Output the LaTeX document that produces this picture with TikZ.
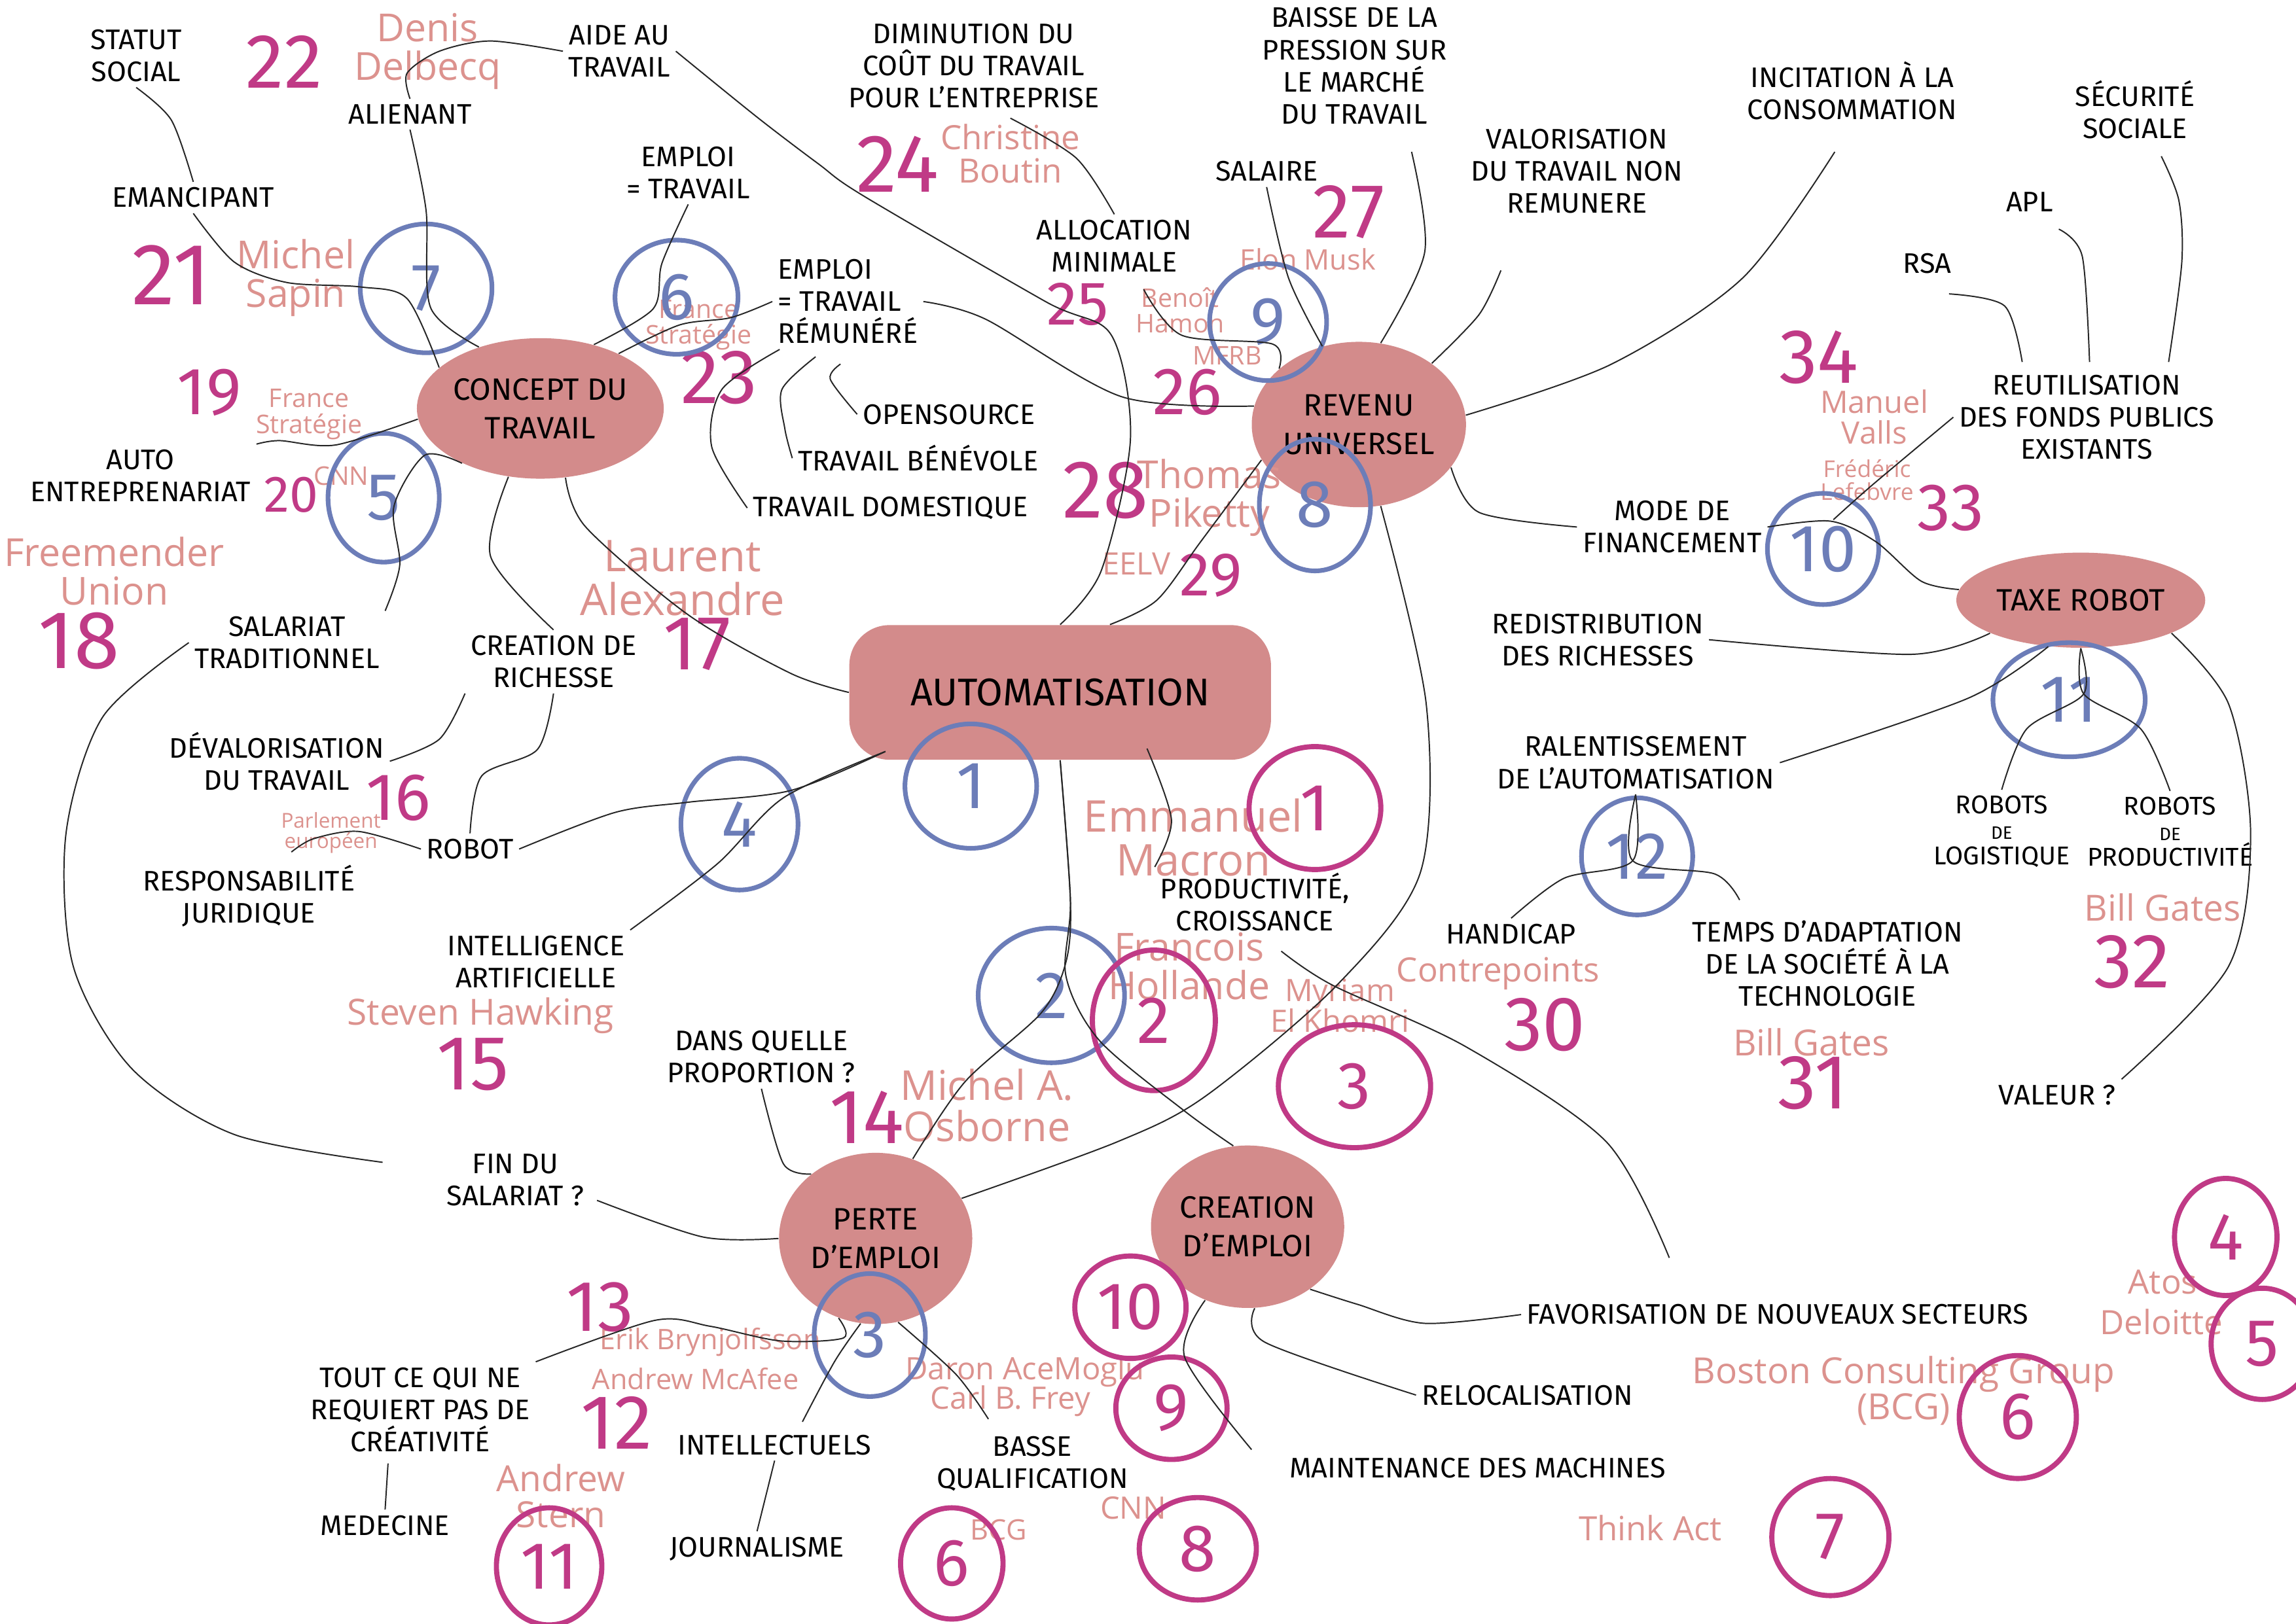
\documentclass[tikz,border=0pt]{standalone}
\usepackage{fontspec}
\setmainfont{Fira Sans}
\newfontfamily\nomfont{Open Sans}
\usetikzlibrary{shapes.geometric,calc}
\definecolor{rosefond}{RGB}{211,139,139}
\definecolor{numrose}{RGB}{192,58,134}
\definecolor{nomsaumon}{RGB}{220,146,142}
\definecolor{bleucercle}{RGB}{108,125,184}

\begin{document}
\begin{tikzpicture}[x=0.02cm, y=-0.02cm,
    lbl/.style={align=center, font=\fontsize{11}{12.5}\selectfont, inner sep=2pt},
    nom/.style={align=center, text=nomsaumon, font=\nomfont\fontsize{#1}{#1}\selectfont, inner sep=1pt},
    nom/.default=13,
    num/.style={text=numrose, font=\fontsize{#1}{#1}\selectfont, inner sep=0pt},
    num/.default=30,
    bleu/.style={ellipse, draw=bleucercle, line width=1.8pt, text=bleucercle, font=\fontsize{26}{26}\selectfont, inner sep=0pt},
    rond/.style={ellipse, draw=numrose, line width=2pt, text=numrose, font=\fontsize{26}{26}\selectfont, inner sep=0pt},
    theme/.style={ellipse, fill=rosefond, align=center, font=\fontsize{12}{15}\selectfont, inner sep=0pt},
    boite/.style={fill=rosefond, rounded corners=0.55cm, font=\fontsize{15}{15}\selectfont},
    lien/.style={draw=black!85, line width=0.5pt}
    ]
    \fill[white] (0,0) rectangle (1568,1109);
    \useasboundingbox (0,0) rectangle (1568,1109);

    % themes
    \node [boite, minimum width=5.76cm, minimum height=1.84cm] (auto) at (724,473) {AUTOMATISATION};
    \node [theme, minimum width=3.1cm, minimum height=1.92cm] (concept) at (369,279) {CONCEPT DU\\TRAVAIL};
    \node [theme, minimum width=2.86cm, minimum height=2.26cm] (revenu) at (928,290) {REVENU\\UNIVERSEL};
    \node [theme, minimum width=3.4cm, minimum height=1.3cm] (taxe) at (1421,410) {TAXE ROBOT};
    \node [theme, minimum width=2.64cm, minimum height=2.34cm] (perte) at (598,846) {PERTE\\D'EMPLOI};
    \node [theme, minimum width=2.64cm, minimum height=2.22cm] (creation) at (852,838) {CREATION\\D'EMPLOI};

    % idees
    \node [lbl] (statut) at (93,38) {STATUT\\SOCIAL};
    \node [lbl] (alien) at (280,78) {ALIENANT};
    \node [lbl] (aide) at (423,35) {AIDE AU\\TRAVAIL};
    \node [lbl] (emanc) at (132,135) {EMANCIPANT};
    \node [lbl] (emptr) at (470,118) {EMPLOI\\= TRAVAIL};
    \node [lbl] (dimin) at (665,45) {DIMINUTION DU\\COÛT DU TRAVAIL\\POUR L'ENTREPRISE};
    \node [lbl] (baisse) at (925,45) {BAISSE DE LA\\PRESSION SUR\\LE MARCHÉ\\DU TRAVAIL};
    \node [lbl] (incit) at (1265,62) {INCITATION À LA\\CONSOMMATION};
    \node [lbl] (secu) at (1458,75) {SÉCURITÉ\\SOCIALE};
    \node [lbl] (valor) at (1077,117) {VALORISATION\\DU TRAVAIL NON\\REMUNERE};
    \node [lbl] (salaire) at (865,117) {SALAIRE};
    \node [lbl] (alloc) at (761,168) {ALLOCATION\\MINIMALE};
    \node [lbl] (apl) at (1386,138) {APL};
    \node [lbl] (rsa) at (1316,180) {RSA};
    \node [lbl, align=left] (emprem) at (579,206) {EMPLOI\\= TRAVAIL\\RÉMUNÉRÉ};
    \node [lbl] (opens) at (648,283) {OPENSOURCE};
    \node [lbl] (benev) at (627,313) {TRAVAIL BÉNÉVOLE};
    \node [lbl] (domest) at (608,347) {TRAVAIL DOMESTIQUE};
    \node [lbl] (autoent) at (96,325) {AUTO\\ENTREPRENARIAT};
    \node [lbl] (reutil) at (1425,285) {REUTILISATION\\DES FONDS PUBLICS\\EXISTANTS};
    \node [lbl] (mode) at (1142,360) {MODE DE\\FINANCEMENT};
    \node [lbl] (redis) at (1091,437) {REDISTRIBUTION\\DES RICHESSES};
    \node [lbl] (salariat) at (196,439) {SALARIAT\\TRADITIONNEL};
    \node [lbl] (crearich) at (378,452) {CREATION DE\\RICHESSE};
    \node [lbl] (ralent) at (1117,521) {RALENTISSEMENT\\DE L'AUTOMATISATION};
    \node [lbl] (deval) at (189,520) {DÉVALORISATION\\DU TRAVAIL};
    \node [lbl] (robot) at (321,580) {ROBOT};
    \node [lbl] (respons) at (170,612) {RESPONSABILITÉ\\JURIDIQUE};
    \node [lbl, font=\fontsize{10}{10}\selectfont] (roblog) at (1367,568) {ROBOTS\\{\scriptsize DE}\\LOGISTIQUE};
    \node [lbl, font=\fontsize{10}{10}\selectfont] (robprod) at (1482,568) {ROBOTS\\{\scriptsize DE}\\PRODUCTIVITÉ};
    \node [lbl] (prodcr) at (857,616) {PRODUCTIVITÉ,\\CROISSANCE};
    \node [lbl] (ia) at (366,657) {INTELLIGENCE\\ARTIFICIELLE};
    \node [lbl] (handi) at (1032,638) {HANDICAP};
    \node [lbl] (temps) at (1248,658) {TEMPS D'ADAPTATION\\DE LA SOCIÉTÉ À LA\\TECHNOLOGIE};
    \node [lbl] (proport) at (520,722) {DANS QUELLE\\PROPORTION ?};
    \node [lbl] (valeur) at (1405,748) {VALEUR ?};
    \node [lbl] (finsal) at (352,806) {FIN DU\\SALARIAT ?};
    \node [lbl] (favor) at (1214,898) {FAVORISATION DE NOUVEAUX SECTEURS};
    \node [lbl] (toutce) at (287,963) {TOUT CE QUI NE\\REQUIERT PAS DE\\CRÉATIVITÉ};
    \node [lbl] (reloc) at (1043,953) {RELOCALISATION};
    \node [lbl] (intel) at (529,987) {INTELLECTUELS};
    \node [lbl] (basse) at (705,1000) {BASSE\\QUALIFICATION};
    \node [lbl] (mainten) at (1009,1003) {MAINTENANCE DES MACHINES};
    \node [lbl] (medec) at (263,1042) {MEDECINE};
    \node [lbl] (journ) at (517,1058) {JOURNALISME};

    % sources
    \node [nom=15] (delbecq) at (292,35) {Denis\\Delbecq};
    \node [nom=15] (sapin) at (202,190) {Michel\\Sapin};
    \node [nom=10] (fstrat1) at (477,222) {France\\Stratégie};
    \node [nom=10] (fstrat2) at (211,283) {France\\Stratégie};
    \node [nom=10] (cnn1) at (233,325) {CNN};
    \node [nom=15] (freem) at (78,390) {Freemender\\Union};
    \node [nom=17] (laurent) at (466,395) {Laurent\\Alexandre};
    \node [nom=13] (boutin) at (690,105) {Christine\\Boutin};
    \node [nom=10] (hamon) at (806,212) {Benoît\\Hamon};
    \node [nom=10] (mfrb) at (838,243) {MFRB};
    \node [nom=11] (musk) at (893,177) {Elon Musk};
    \node [nom=15] (piketty) at (826,340) {Thomas\\Piketty};
    \node [nom=12] (eelv) at (776,385) {EELV};
    \node [nom=12] (valls) at (1280,285) {Manuel\\Valls};
    \node [nom=9] (lefebvre) at (1275,328) {Frédéric\\Lefebvre};
    \node [nom=8] (parl) at (226,569) {Parlement\\européen};
    \node [nom=17] (macron) at (815,572) {Emmanuel\\Macron};
    \node [nom=15] (hollande) at (812,660) {Francois\\Hollande};
    \node [nom=12] (khomri) at (915,687) {Myriam\\El Khomri};
    \node [nom=14] (hawking) at (328,694) {Steven Hawking};
    \node [nom=16] (osborne) at (674,755) {Michel A.\\Osborne};
    \node [nom=11] (bryn) at (485,917) {Erik Brynjolfsson};
    \node [nom=11] (mcafee) at (475,942) {Andrew McAfee};
    \node [nom=12] (acem) at (700,937) {Daron AceMoglu};
    \node [nom=12] (frey) at (690,957) {Carl B. Frey};
    \node [nom=14] (stern) at (383,1022) {Andrew\\Stern};
    \node [nom=11] (bcg1) at (682,1045) {BCG};
    \node [nom=12] (cnn2) at (774,1030) {CNN};
    \node [nom=13] (contre) at (1023,665) {Contrepoints};
    \node [nom=14] (gates1) at (1237,712) {Bill Gates};
    \node [nom=14] (gates2) at (1477,620) {Bill Gates};
    \node [nom=13] (atos) at (1477,876) {Atos};
    \node [nom=13] (deloitte) at (1476,903) {Deloitte};
    \node [nom=14] (boston) at (1300,950) {Boston Consulting Group\\(BCG)};
    \node [nom=13] (think) at (1127,1044) {Think Act};

    % numeros
    \node [num] (n22) at (194,42) {22};
    \node [num=34] (n21) at (117,188) {21};
    \node [num=26] (n19) at (143,268) {19};
    \node [num=20] (n20) at (199,338) {20};
    \node [num=32] (n18) at (54,438) {18};
    \node [num=32] (n24) at (613,112) {24};
    \node [num] (n23) at (491,258) {23};
    \node [num=24] (n25) at (736,208) {25};
    \node [num=26] (n26) at (811,268) {26};
    \node [num] (n27) at (921,145) {27};
    \node [num=32] (n28) at (755,335) {28};
    \node [num=24] (n29) at (827,393) {29};
    \node [num] (n17) at (476,440) {17};
    \node [num=26] (n16) at (272,545) {16};
    \node [num] (n15) at (323,727) {15};
    \node [num] (n14) at (592,763) {14};
    \node [num=28] (n13) at (410,893) {13};
    \node [num] (n12) at (421,972) {12};
    \node [num] (n34) at (1242,244) {34};
    \node [num=26] (n33) at (1332,347) {33};
    \node [num] (n32) at (1456,657) {32};
    \node [num] (n30) at (1055,700) {30};
    \node [num] (n31) at (1238,740) {31};

    % cercles bleus
    \node [bleu, minimum width=1.8cm, minimum height=1.7cm] (b1) at (663,537) {1};
    \node [bleu, minimum width=2cm, minimum height=1.84cm] (b2) at (718,680) {2};
    \node [bleu, minimum width=1.52cm, minimum height=1.68cm] (b3) at (594,912) {3};
    \node [bleu, minimum width=1.6cm, minimum height=1.8cm] (b4) at (505,563) {4};
    \node [bleu, minimum width=1.52cm, minimum height=1.76cm] (b5) at (262,340) {5};
    \node [bleu, minimum width=1.68cm, minimum height=1.56cm] (b6) at (462,203) {6};
    \node [bleu, minimum width=1.8cm, minimum height=1.76cm] (b7) at (291,197) {7};
    \node [bleu, minimum width=1.52cm, minimum height=1.8cm] (b8) at (898,345) {8};
    \node [bleu, minimum width=1.6cm, minimum height=1.6cm] (b9) at (866,220) {9};
    \node [bleu, minimum width=1.52cm, minimum height=1.52cm] (b10) at (1245,375) {10};
    \node [bleu, minimum width=2.08cm, minimum height=1.56cm] (b11) at (1413,478) {11};
    \node [bleu, minimum width=1.52cm, minimum height=1.6cm] (b12) at (1118,585) {12};

    % cercles roses
    \node [rond, minimum width=1.8cm, minimum height=1.68cm] (m1) at (898,552) {1};
    \node [rond, minimum width=1.68cm, minimum height=1.92cm] (m2) at (788,697) {2};
    \node [rond, minimum width=2.08cm, minimum height=1.68cm] (m3) at (925,742) {3};
    \node [rond, minimum width=1.4cm, minimum height=1.6cm] (m4) at (1520,845) {4};
    \node [rond, minimum width=1.4cm, minimum height=1.52cm] (m5) at (1545,918) {5};
    \node [rond, minimum width=1.6cm, minimum height=1.68cm] (m6) at (1378,968) {6};
    \node [rond, minimum width=1.6cm, minimum height=1.6cm] (m7) at (1250,1050) {7};
    \node [rond, minimum width=1.6cm, minimum height=1.4cm] (m8) at (818,1058) {8};
    \node [rond, minimum width=1.52cm, minimum height=1.4cm] (m9) at (800,962) {9};
    \node [rond, minimum width=1.52cm, minimum height=1.4cm] (m10) at (772,893) {10};
    \node [rond, minimum width=1.44cm, minimum height=1.6cm] (m11) at (375,1070) {11};
    \node [rond, minimum width=1.4cm, minimum height=1.52cm] (m6b) at (650,1068) {6};

    % liens concept du travail
    \draw [lien] plot[smooth] coordinates {(statut.south) (117,82) (emanc.north)};
    \draw [lien] plot[smooth] coordinates {(emanc.south) (160,179) (196,193) (246,196) (278,204) (concept.158)};
    \draw [lien] plot[smooth] coordinates {(alien.south) (291,144) (294,210) (concept.135)};
    \draw [lien] plot[smooth] coordinates {(aide.west) (335,28) (300,35) (278,50) (alien.north)};
    \draw [lien] plot[smooth] coordinates {(aide.east) (517,80) (559,112) (590,134) (714,206) (759,229) (772,300) (752,390) (auto.north)};
    \draw [lien] plot[smooth] coordinates {(emptr.south) (452,180) (446,211) (concept.50)};
    \draw [lien] plot[smooth] coordinates {(concept.35) (464,222) (499,217) (emprem.west)};
    \draw [lien] plot[smooth] coordinates {($(emprem.south west)+(5,0)$) (493,266) (486,305) (domest.west)};
    \draw [lien] plot[smooth] coordinates {($(emprem.south)+(-22,5)$) (534,266) (536,293) (benev.west)};
    \draw [lien] plot[smooth] coordinates {($(emprem.south)+(-5,10)$) (567,259) (opens.west)};
    \draw [lien] plot[smooth] coordinates {(concept.185) (229,304) (191,301) (autoent.north east)};
    \draw [lien] plot[smooth] coordinates {(concept.215) (290,311) (269,346) (273,386) (salariat.north east)};
    \draw [lien] plot[smooth] coordinates {(concept.245) (335,380) (crearich.north)};
    \draw [lien] plot[smooth] coordinates {(concept.290) (400,360) (470,420) (540,460) (auto.west)};

    % liens revenu universel
    \draw [lien] plot[smooth] coordinates {(emprem.east) (673,218) (766,271) (revenu.170)};
    \draw [lien] plot[smooth] coordinates {($(alloc.south)+(20,8)$) (807,229) (869,235) (revenu.145)};
    \draw [lien] plot[smooth] coordinates {($(dimin.south)+(25,3)$) (735,108) (alloc.north)};
    \draw [lien] plot[smooth] coordinates {(salaire.south) (880,190) (revenu.115)};
    \draw [lien] plot[smooth] coordinates {($(baisse.south)+(39,15)$) (973,172) (revenu.75)};
    \draw [lien] plot[smooth] coordinates {($(valor.south)+(-52,35)$) (1010,215) (revenu.40)};
    \draw [lien] plot[smooth] coordinates {(revenu.5) (1100,249) (1190,190) ($(incit.south)+(-12,18)$)};
    \draw [lien] plot[smooth] coordinates {(revenu.-25) (1010,350) (mode.west)};
    \draw [lien] plot[smooth] coordinates {(revenu.-75) (974,481) (970,596) (913,673) (823,749) (763,780) (perte.25)};
    \draw [lien] plot[smooth] coordinates {(revenu.200) (820,370) (790,410) ($(auto.north)+(34,0)$)};

    % liens taxe robot
    \draw [lien] plot[smooth] coordinates {(mode.east) (1250,356) (1281,370) (1312,397) (taxe.175)};
    \draw [lien] plot[smooth] coordinates {($(mode.east)+(45,-5)$) (1279,331) (reutil.west)};
    \draw [lien] plot[smooth] coordinates {($(rsa.south)+(15,10)$) (1369,209) ($(reutil.north)+(-44,-5)$)};
    \draw [lien] plot[smooth] coordinates {($(apl.south)+(20,8)$) (1422,175) ($(reutil.north)+(2,-5)$)};
    \draw [lien] plot[smooth] coordinates {($(secu.south)+(18,8)$) (1488,137) (1490,179) ($(reutil.north)+(56,-5)$)};
    \draw [lien] plot[smooth] coordinates {(taxe.200) (1305,447) (redis.east)};
    \draw [lien] plot[smooth] coordinates {(taxe.235) (1344,477) (ralent.east)};
    \draw [lien] plot[smooth] coordinates {(taxe.south) (1423,474) (1384,498) (roblog.north)};
    \draw [lien] plot[smooth] coordinates {(taxe.south) (1423,474) (1462,498) (robprod.north)};
    \draw [lien] plot[smooth] coordinates {(taxe.-20) (1522,481) (1537,570) (1522,660) (valeur.north east)};
    \draw [lien] plot[smooth] coordinates {(ralent.south) (1115,588) (1068,600) (handi.north)};
    \draw [lien] plot[smooth] coordinates {(ralent.south) (1115,588) (1171,597) ($(temps.north)+(-60,-10)$)};

    % liens automatisation
    \draw [lien] plot[smooth] coordinates {($(auto.south west)+(25,-6)$) (540,540) (470,548) (420,555) (robot.east)};
    \draw [lien] plot[smooth] coordinates {(ia.north east) (490,590) (535,545) ($(auto.south west)+(25,-6)$)};
    \draw [lien] plot[smooth] coordinates {(robot.north) (329,530) (367,512) (crearich.south)};
    \draw [lien] plot[smooth] coordinates {(deval.east) (300,505) (crearich.south west)};
    \draw [lien] plot[smooth] coordinates {($(respons.north)+(29,-5)$) (214,573) (245,568) (robot.west)};
    \draw [lien] plot[smooth] coordinates {(salariat.west) (70,490) (45,570) (50,660) (90,730) (160,775) ($(finsal.west)+(-40,-12)$)};
    \draw [lien] plot[smooth] coordinates {(auto.south) (731,615) (728,667) (751,711) (809,759) (creation.100)};
    \draw [lien] plot[smooth] coordinates {(auto.south) (731,615) (728,657) (711,692) (659,739) (perte.65)};
    \draw [lien] plot[smooth] coordinates {($(auto.south east)+(-85,-8)$) (800,560) (prodcr.north west)};
    \draw [lien] plot[smooth] coordinates {($(prodcr.south)+(18,10)$) (910,673) (1001,715) (1097,780) ($(favor.north)+(-74,-28)$)};

    % liens perte et creation d'emploi
    \draw [lien] plot[smooth] coordinates {($(finsal.east)+(5,14)$) (480,845) (perte.180)};
    \draw [lien] plot[smooth] coordinates {(proport.south) (535,795) (perte.135)};
    \draw [lien] plot[smooth] coordinates {(toutce.north east) (447,902) (485,906) (533,916) (576,914) (perte.-115)};
    \draw [lien] plot[smooth] coordinates {(perte.-100) (570,930) ($(intel.north)+(19,-5)$)};
    \draw [lien] plot[smooth] coordinates {(perte.-75) (653,939) ($(basse.north)+(-30,-8)$)};
    \draw [lien] ($(toutce.south)+(-22,4)$) -- (medec.north);
    \draw [lien] (intel.south) -- (journ.north);
    \draw [lien] plot[smooth] coordinates {(creation.-120) (809,927) ($(mainten.north west)+(-22,-2)$)};
    \draw [lien] plot[smooth] coordinates {(creation.-85) (864,917) (reloc.west)};
    \draw [lien] plot[smooth] coordinates {(creation.-45) (927,891) (973,904) (favor.west)};
\end{tikzpicture}
\end{document}
